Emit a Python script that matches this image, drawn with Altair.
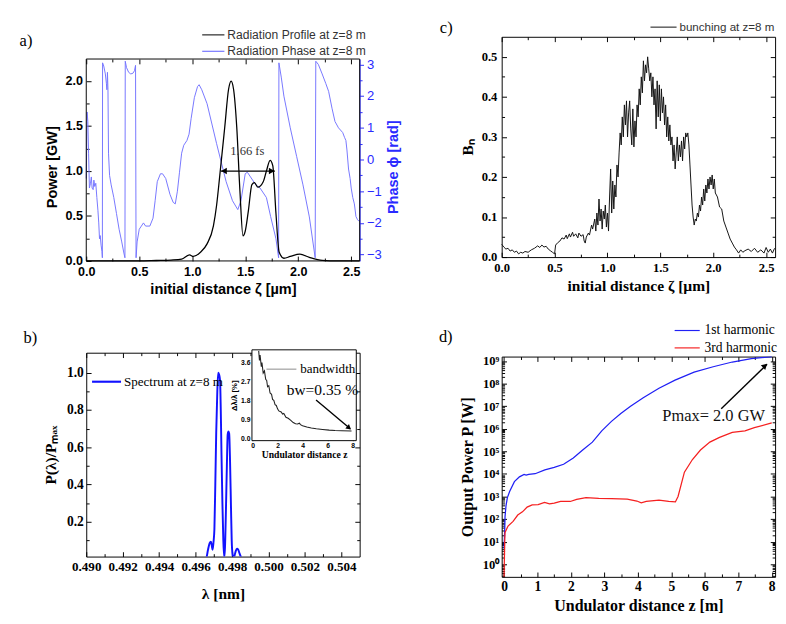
import altair as alt
import pandas as pd

SANS = "Liberation Sans"
SERIF = "Liberation Serif"

# plot-area sizes (px)
W_A, H_A = 283, 209
A_TOP = 23                 # panel a frame sits this far below panel c's frame top
W_B, H_B = 283, 211
W_C, H_C = 283, 228
W_D, H_D = 283, 228

# ---------------- panel a : radiation profile & phase ----------------
a_zeta_domain = [0, 2.58]
a_power_domain = [0, 2.246]
a_phase_domain = [-3.2, 3.17]
a_zeta_ticks = [0, 0.5, 1.0, 1.5, 2.0, 2.5]
a_zeta_minor = [0.25, 0.75, 1.25, 1.75, 2.25]
a_power_ticks = [0, 0.5, 1.0, 1.5, 2.0]
a_power_minor = [0.25, 0.75, 1.25, 1.75]
a_phase_ticks = [-3, -2, -1, 0, 1, 2, 3]
a_phase_minor = [-2.5, -1.5, -0.5, 0.5, 1.5, 2.5]
a_power = [(0.00, 0.0), (0.50, 0.0), (0.66, 0.005), (0.80, 0.01), (0.90, 0.02), (0.975, 0.067),
           (1.01, 0.05), (1.08, 0.10), (1.14, 0.19), (1.20, 0.39), (1.23, 0.62), (1.26, 0.95),
           (1.307, 1.49), (1.343, 1.91), (1.367, 2.0), (1.39, 1.91), (1.42, 1.49), (1.45, 0.78),
           (1.479, 0.28), (1.50, 0.33), (1.53, 0.56), (1.563, 0.85), (1.587, 0.87), (1.62, 0.82),
           (1.67, 0.88), (1.70, 1.0), (1.735, 1.12), (1.76, 1.06), (1.79, 0.53), (1.82, 0.10),
           (1.865, 0.03), (1.925, 0.05), (2.015, 0.075), (2.105, 0.04), (2.226, 0.005),
           (2.30, 0.0), (2.58, 0.0)]
a_phase = [(0.000, -0.6), (0.008, 1.5), (0.015, 1.2), (0.022, 0.2), (0.030, -0.9), (0.040, -0.75),
           (0.048, -0.55), (0.055, -0.9), (0.065, -0.95), (0.072, -0.65), (0.080, -0.85),
           (0.090, -0.75), (0.100, -1.2), (0.110, -1.6), (0.118, -2.0), (0.125, -2.5), (0.132, -2.4),
           (0.140, -2.7), (0.148, -2.9), (0.152, -3.1), (0.154, 3.05), (0.165, 2.95), (0.180, 2.7),
           (0.190, 2.4), (0.195, 2.2), (0.200, 2.75), (0.205, 2.2), (0.210, 0.2), (0.220, -0.5),
           (0.235, -0.8), (0.260, -1.2), (0.285, -1.7), (0.310, -2.2), (0.335, -2.6), (0.355, -2.95),
           (0.365, -3.1), (0.368, 3.1), (0.380, 2.9), (0.400, 2.75), (0.420, 2.7), (0.440, 2.72),
           (0.455, 2.8), (0.465, 2.97), (0.470, -3.1), (0.480, -2.6), (0.500, -2.2), (0.520, -2.1),
           (0.540, -2.0), (0.560, -2.1), (0.600, -2.1), (0.630, -1.85), (0.650, -1.3), (0.670, -0.7),
           (0.700, -0.45), (0.720, -0.45), (0.750, -0.6), (0.790, -1.1), (0.820, -1.35),
           (0.840, -1.4), (0.860, -1.0), (0.880, -0.4), (0.900, 0.2), (0.920, 0.45), (0.950, 0.6),
           (0.970, 0.8), (0.990, 1.3), (1.020, 1.95), (1.050, 2.3), (1.065, 2.36), (1.090, 2.2),
           (1.140, 1.76), (1.230, 0.5), (1.320, -0.7), (1.380, -1.3), (1.430, -1.58), (1.460, -1.3),
           (1.500, -0.45), (1.520, -0.4), (1.550, -0.55), (1.600, -0.8), (1.640, -0.9),
           (1.700, -1.2), (1.740, -1.8), (1.790, -2.5), (1.815, -3.1), (1.818, 3.05), (1.840, 2.6),
           (1.865, 2.0), (1.925, 1.0), (1.985, 0.1), (2.045, -0.8), (2.105, -1.81), (2.160, -3.1),
           (2.166, 3.1), (2.190, 3.0), (2.226, 2.7), (2.260, 2.4), (2.287, 2.15), (2.320, 1.6),
           (2.347, 1.2), (2.380, 1.0), (2.420, 0.85), (2.437, 0.7), (2.450, 0.6), (2.460, 0.3),
           (2.475, -0.3), (2.490, -0.6), (2.500, -0.9), (2.515, -1.2), (2.530, -1.4),
           (2.545, -1.8), (2.560, -1.9), (2.575, -1.95)]
a_fwhm = [1.27, 1.78, 1.0]          # arrow from, to, power level
a_fwhm_label = ["1.66 fs", 1.52, 1.22]
a_legend = ["Radiation Profile at z=8 m", "Radiation Phase at z=8 m"]

# ---------------- panel b : spectrum + bandwidth inset ----------------
b_lambda_domain = [0.490, 0.505]
b_p_domain = [0.013, 1.108]
b_lambda_ticks = [0.490, 0.492, 0.494, 0.496, 0.498, 0.500, 0.502, 0.504]
b_lambda_minor = [0.491, 0.493, 0.495, 0.497, 0.499, 0.501, 0.503]
b_p_ticks = [0.2, 0.4, 0.6, 0.8, 1.0]
b_p_minor = [0.1, 0.3, 0.5, 0.7, 0.9]
b_spectrum = [(0.49615, 0.0), (0.49640, 0.0), (0.49658, 0.005), (0.49668, 0.05), (0.49677, 0.085),
              (0.49684, 0.093), (0.49689, 0.07), (0.49693, 0.05), (0.49698, 0.09), (0.49703, 0.16),
              (0.49708, 0.40), (0.49713, 0.68), (0.49719, 0.90), (0.49724, 1.0), (0.49729, 0.99),
              (0.49734, 0.96), (0.49738, 0.80), (0.49742, 0.56), (0.49747, 0.30), (0.49752, 0.10),
              (0.49757, 0.01), (0.49761, 0.06), (0.49766, 0.25), (0.49771, 0.48), (0.49776, 0.67),
              (0.49780, 0.685), (0.49784, 0.675), (0.49789, 0.52), (0.49794, 0.28), (0.49798, 0.10),
              (0.49803, 0.02), (0.49808, 0.0), (0.49814, 0.02), (0.49820, 0.042), (0.49827, 0.055),
              (0.49834, 0.05), (0.49841, 0.03), (0.49849, 0.01), (0.49856, 0.0), (0.49866, 0.0)]
inset_z_domain = [-0.05, 8.3]
inset_bw_domain = [-0.11, 4.2]
inset_z_ticks = [0, 2, 4, 6, 8]
inset_bw_ticks = [0.0, 0.9, 1.8, 2.7, 3.6]
inset_bw = [(0.49, 4.15), (0.55, 3.7), (0.6, 3.95), (0.7, 3.4), (0.75, 3.6), (0.85, 3.1), (0.95, 3.2),
            (1.05, 2.8), (1.13, 2.75), (1.2, 2.45), (1.3, 2.5), (1.4, 2.15), (1.52, 2.09), (1.6, 1.85),
            (1.7, 1.8), (1.8, 1.6), (1.9, 1.56), (2.0, 1.4), (2.1, 1.3), (2.29, 1.25), (2.4, 1.15),
            (2.5, 1.18), (2.67, 1.0), (2.85, 0.95), (3.06, 0.85), (3.25, 0.75), (3.44, 0.69),
            (3.6, 0.68), (3.75, 0.72), (3.83, 0.65), (4.0, 0.6), (4.34, 0.54), (4.7, 0.49),
            (5.1, 0.45), (5.6, 0.42), (6.13, 0.39), (6.6, 0.37), (7.15, 0.36), (7.92, 0.35)]
inset_arrow = [5.08, 1.82, 7.82, 0.45]
b_texts = ["Spectrum at z=8 m", "bandwidth", "bw=0.35 %"]

# ---------------- panel c : bunching ----------------
c_zeta_domain = [0, 2.585]
c_b_domain = [0, 0.55]
c_zeta_ticks = [0, 0.5, 1.0, 1.5, 2.0, 2.5]
c_zeta_minor = [0.25, 0.75, 1.25, 1.75, 2.25]
c_b_ticks = [0.0, 0.1, 0.2, 0.3, 0.4, 0.5]
c_b_minor = [0.05, 0.15, 0.25, 0.35, 0.45]
c_bunch = [(0.00, 0.032), (0.02, 0.025), (0.04, 0.020), (0.06, 0.022), (0.08, 0.015), (0.10, 0.018),
           (0.12, 0.012), (0.14, 0.015), (0.16, 0.008), (0.18, 0.012), (0.20, 0.010), (0.22, 0.014),
           (0.25, 0.012), (0.28, 0.018), (0.31, 0.022), (0.34, 0.028), (0.36, 0.024), (0.38, 0.030),
           (0.40, 0.025), (0.42, 0.027), (0.44, 0.020), (0.46, 0.016), (0.48, 0.012), (0.50, 0.008),
           (0.51, 0.030), (0.53, 0.036), (0.55, 0.040), (0.57, 0.048), (0.59, 0.045), (0.61, 0.055),
           (0.62, 0.046), (0.64, 0.058), (0.65, 0.050), (0.67, 0.062), (0.68, 0.052), (0.70, 0.058),
           (0.72, 0.048), (0.73, 0.060), (0.75, 0.052), (0.77, 0.056), (0.78, 0.040), (0.79, 0.035),
           (0.80, 0.050), (0.82, 0.060), (0.83, 0.055), (0.85, 0.080), (0.86, 0.070), (0.88, 0.095),
           (0.89, 0.065), (0.90, 0.110), (0.91, 0.080), (0.92, 0.145), (0.93, 0.090), (0.94, 0.120),
           (0.95, 0.070), (0.96, 0.115), (0.97, 0.095), (0.98, 0.130), (0.99, 0.075), (1.00, 0.110),
           (1.01, 0.065), (1.02, 0.150), (1.03, 0.220), (1.04, 0.110), (1.05, 0.190), (1.06, 0.120),
           (1.07, 0.180), (1.08, 0.150), (1.09, 0.230), (1.10, 0.200), (1.11, 0.260), (1.12, 0.310),
           (1.13, 0.280), (1.14, 0.350), (1.15, 0.300), (1.16, 0.380), (1.17, 0.330), (1.18, 0.390),
           (1.19, 0.300), (1.20, 0.360), (1.21, 0.390), (1.22, 0.320), (1.23, 0.280), (1.24, 0.370),
           (1.25, 0.275), (1.26, 0.340), (1.27, 0.300), (1.28, 0.380), (1.29, 0.350), (1.30, 0.420),
           (1.31, 0.380), (1.32, 0.450), (1.33, 0.410), (1.34, 0.490), (1.35, 0.440), (1.36, 0.480),
           (1.37, 0.460), (1.38, 0.500), (1.39, 0.470), (1.40, 0.440), (1.41, 0.460), (1.42, 0.400),
           (1.43, 0.450), (1.44, 0.380), (1.45, 0.420), (1.46, 0.320), (1.47, 0.440), (1.48, 0.350),
           (1.49, 0.430), (1.50, 0.340), (1.51, 0.420), (1.52, 0.360), (1.53, 0.400), (1.54, 0.330),
           (1.55, 0.380), (1.56, 0.300), (1.57, 0.350), (1.58, 0.290), (1.59, 0.330), (1.60, 0.280),
           (1.61, 0.300), (1.62, 0.240), (1.63, 0.280), (1.64, 0.220), (1.65, 0.260), (1.66, 0.300),
           (1.67, 0.240), (1.68, 0.280), (1.69, 0.250), (1.70, 0.290), (1.71, 0.240), (1.72, 0.300),
           (1.73, 0.270), (1.74, 0.310), (1.75, 0.300), (1.76, 0.310), (1.77, 0.280), (1.78, 0.230),
           (1.79, 0.180), (1.80, 0.130), (1.81, 0.100), (1.82, 0.080), (1.83, 0.095), (1.84, 0.090),
           (1.85, 0.110), (1.86, 0.100), (1.87, 0.130), (1.88, 0.115), (1.89, 0.150), (1.90, 0.130),
           (1.91, 0.170), (1.92, 0.140), (1.93, 0.180), (1.94, 0.160), (1.95, 0.195), (1.96, 0.170),
           (1.97, 0.200), (1.98, 0.180), (1.99, 0.205), (2.00, 0.170), (2.01, 0.195), (2.02, 0.160),
           (2.04, 0.150), (2.06, 0.125), (2.08, 0.120), (2.10, 0.090), (2.12, 0.075), (2.14, 0.060),
           (2.16, 0.045), (2.18, 0.035), (2.20, 0.025), (2.22, 0.018), (2.24, 0.010), (2.26, 0.018),
           (2.28, 0.012), (2.30, 0.016), (2.33, 0.020), (2.36, 0.014), (2.39, 0.022), (2.42, 0.012),
           (2.45, 0.018), (2.48, 0.010), (2.50, 0.024), (2.52, 0.012), (2.54, 0.020), (2.56, 0.010),
           (2.58, 0.022)]

# ---------------- panel d : output power (log10 of W) ----------------
d_z_domain = [-0.07, 8.1]
d_log_domain = [-0.56, 9.2]
d_z_ticks = [0, 1, 2, 3, 4, 5, 6, 7, 8]
d_z_minor = [0.5, 1.5, 2.5, 3.5, 4.5, 5.5, 6.5, 7.5]
d_log_ticks = [0, 1, 2, 3, 4, 5, 6, 7, 8, 9]
d_mantissas = [2, 3, 4, 5, 6, 7, 8, 9]
d_first = [(0.0, 0.70), (0.02, 1.5), (0.03, 2.11), (0.06, 2.6), (0.10, 2.95), (0.17, 3.23),
           (0.31, 3.66), (0.46, 3.87), (0.60, 3.98), (0.66, 3.95), (0.74, 3.98), (0.93, 4.01),
           (1.22, 4.18), (1.50, 4.29), (1.78, 4.43), (2.07, 4.71), (2.35, 5.06), (2.64, 5.41),
           (2.92, 5.91), (3.21, 6.33), (3.49, 6.68), (3.78, 7.00), (4.16, 7.38), (4.63, 7.80),
           (5.11, 8.16), (5.68, 8.51), (6.25, 8.75), (6.82, 8.96), (7.39, 9.11), (8.0, 9.2)]
d_third = [(0.0, -0.6), (0.01, 0.2), (0.02, 0.98), (0.03, 1.41), (0.12, 1.69), (0.27, 1.90),
           (0.41, 2.18), (0.55, 2.32), (0.69, 2.53), (0.84, 2.63), (1.02, 2.64), (1.21, 2.74),
           (1.36, 2.67), (1.50, 2.71), (1.69, 2.78), (1.98, 2.78), (2.17, 2.87), (2.45, 2.95),
           (2.83, 2.92), (3.21, 2.91), (3.68, 2.88), (3.97, 2.80), (4.10, 2.72), (4.25, 2.78),
           (4.63, 2.84), (4.92, 2.78), (5.12, 2.76), (5.20, 3.0), (5.39, 4.08), (5.63, 4.64),
           (5.87, 5.06), (6.15, 5.41), (6.44, 5.62), (6.82, 5.84), (7.20, 5.91), (7.48, 6.05),
           (8.0, 6.26)]
d_arrow = [6.49, 6.89, 7.86, 8.86]
d_pmax_label = ["Pmax= 2.0 GW", 4.73, 6.54]
d_legend = ["1st harmonic", "3rd harmonic"]

PHASE_LINE = "#7474ff"
PHASE_AXIS = "#2a2aff"


def pts(pairs, a="x", b="y"):
    return pd.DataFrame({a: [p[0] for p in pairs], b: [p[1] for p in pairs]})


def axis(orient, values, fmt=None, expr=None, font=SANS, lsize=13, lweight="bold", title="",
         tfont=None, tsize=15, tpad=4, lpad=3, color="black", tick=5, inward=True, shift=0,
         domain=False, tangle=None, ty=None, tbase=None):
    kw = dict(orient=orient, values=values, grid=False, domain=domain, domainColor=color,
              ticks=True, tickSize=tick, tickColor=color, tickWidth=1,
              offset=shift - (tick if inward else 0),
              labelFont=font, labelFontSize=lsize, labelFontWeight=lweight, labelColor=color,
              labelPadding=lpad, labelFlush=False, labelOverlap=False,
              title=title, titleFont=tfont or font, titleFontSize=tsize, titleFontWeight="bold",
              titleColor=color, titlePadding=tpad)
    if fmt:
        kw["format"] = fmt
    if expr:
        kw["labelExpr"] = expr
    if tangle is not None:
        kw["titleAngle"] = tangle
    if ty is not None:
        kw["titleY"] = ty
    if tbase:
        kw["titleBaseline"] = tbase
    return alt.Axis(**kw)


def sc(domain, rng=None, kind=None):
    kw = dict(domain=domain, nice=False, zero=False)
    if rng is not None:
        kw["range"] = rng
    if kind:
        kw["type"] = kind
    return alt.Scale(**kw)


def tick_marks(xs, ys, x0, y0, channel, orient, values, size=5, inward=True, color="black", shift=0):
    """Label-less, title-less tick axis (mirror / minor ticks) drawn from the panel's own scales."""
    ax = alt.Axis(orient=orient, values=values, labels=False, domain=False, grid=False, ticks=True,
                  tickSize=size, offset=shift - (size if inward else 0), tickColor=color,
                  tickWidth=1, title=None, minExtent=0, maxExtent=0)
    df = pd.DataFrame({"v": [x0], "w": [y0]})
    if channel == "x":
        enc = dict(x=alt.X("v:Q", scale=xs, axis=ax), y=alt.Y("w:Q", scale=ys, axis=None))
    else:
        enc = dict(x=alt.X("v:Q", scale=xs, axis=None), y=alt.Y("w:Q", scale=ys, axis=ax))
    return alt.Chart(df).mark_point(opacity=0).encode(**enc)


def label(text, x, y, size, font=SERIF, color="black", weight="normal", align="left"):
    return alt.Chart(pd.DataFrame({"t": [text]})).mark_text(
        align=align, baseline="middle", fontSize=size, font=font, color=color, fontWeight=weight
    ).encode(x=alt.value(x), y=alt.value(y), text="t:N")


def key_line(x1, x2, y, color, width=1.2):
    return alt.Chart(pd.DataFrame({"k": [0]})).mark_rule(color=color, strokeWidth=width).encode(
        x=alt.value(x1), x2=alt.value(x2), y=alt.value(y))


# ================= panel a =================
H_AC = H_A + A_TOP
A_TITLE_Y = A_TOP + H_A / 2 + 7
SA_X = sc(a_zeta_domain)
SA_P = sc(a_power_domain, [H_AC, A_TOP])
SA_PHI = sc(a_phase_domain, [H_AC, A_TOP])
AX_A_X = axis("bottom", a_zeta_ticks, fmt=".1f", title="initial distance ζ [µm]", tsize=15, lpad=5)
AX_A_P = axis("left", a_power_ticks, fmt=".1f", title="Power [GW]", tsize=15, tpad=6, lpad=4,
              ty=A_TITLE_Y)
AX_A_PHI = axis("right", a_phase_ticks, fmt="d", lweight="normal", lsize=13.5, color=PHASE_AXIS,
                inward=False, domain=True, tick=4, title="Phase ϕ [rad]", tangle=270, tpad=5,
                ty=A_TITLE_Y, tbase="top")


def xa(field="x"):
    return alt.X(f"{field}:Q", scale=SA_X, axis=None)


def ya(field="y"):
    return alt.Y(f"{field}:Q", scale=SA_P, axis=AX_A_P)


a_phase_line = alt.Chart(pts(a_phase)).mark_line(color=PHASE_LINE, strokeWidth=1).encode(
    x=alt.X("x:Q", scale=SA_X, axis=AX_A_X), y=alt.Y("y:Q", scale=SA_PHI, axis=AX_A_PHI))
a_frame = alt.Chart(pd.DataFrame({"x0": [a_zeta_domain[0]], "x1": [a_zeta_domain[1]],
                                  "y0": [a_power_domain[0]], "y1": [a_power_domain[1]]})).mark_rect(
    fill="white", fillOpacity=0, stroke="black", strokeWidth=1).encode(
    x=xa("x0"), x2="x1:Q", y=ya("y0"), y2="y1:Q")
a_power_line = alt.Chart(pts(a_power)).mark_line(color="black", strokeWidth=1.3,
                                                  interpolate="monotone").encode(x=xa(), y=ya())
a_arrow = alt.Chart(pd.DataFrame({"x1": [a_fwhm[0]], "x2": [a_fwhm[1]], "y": [a_fwhm[2]]})).mark_rule(
    color="black", strokeWidth=1.3).encode(x=xa("x1"), x2="x2:Q", y=ya())
a_head_l = alt.Chart(pd.DataFrame({"x": [a_fwhm[0] + 0.03], "y": [a_fwhm[2]]})).mark_point(
    shape="triangle-left", filled=True, size=45, color="black", opacity=1).encode(x=xa(), y=ya())
a_head_r = alt.Chart(pd.DataFrame({"x": [a_fwhm[1] - 0.03], "y": [a_fwhm[2]]})).mark_point(
    shape="triangle-right", filled=True, size=45, color="black", opacity=1).encode(x=xa(), y=ya())
a_fwhm_text = alt.Chart(pd.DataFrame({"t": [a_fwhm_label[0]], "x": [a_fwhm_label[1]],
                                      "y": [a_fwhm_label[2]]})).mark_text(
    font=SERIF, fontSize=13, color="#333333", align="center", baseline="middle").encode(
    x=xa(), y=ya(), text="t:N")

a_power_group = alt.layer(a_frame, a_power_line, a_arrow, a_head_l, a_head_r, a_fwhm_text)
ax0, ay0 = a_zeta_domain[0], a_power_domain[0]

panel_a = alt.layer(
    a_phase_line, a_power_group,
    tick_marks(SA_X, SA_P, ax0, ay0, "x", "top", a_zeta_ticks, 5, shift=-A_TOP),
    tick_marks(SA_X, SA_P, ax0, ay0, "x", "top", a_zeta_minor, 3, shift=-A_TOP),
    tick_marks(SA_X, SA_P, ax0, ay0, "x", "bottom", a_zeta_minor, 3),
    tick_marks(SA_X, SA_P, ax0, ay0, "y", "left", a_power_minor, 3),
    tick_marks(SA_X, SA_PHI, ax0, 0, "y", "right", a_phase_minor, 2.5, inward=False, color=PHASE_AXIS),
    key_line(120, 143, -2, "#222222"), label(a_legend[0], 146, -2, 12.5, font=SANS, color="#333333"),
    key_line(120, 143, 15, PHASE_LINE), label(a_legend[1], 146, 15, 12.5, font=SANS, color="#333333"),
    label("a)", -69, 4, 17),
).resolve_scale(y="independent").resolve_axis(x="independent").properties(
    width=W_A, height=H_AC, view=alt.ViewBackground(stroke="transparent"))

# ================= panel c =================
SC_X = sc(c_zeta_domain)
SC_Y = sc(c_b_domain)
cx0, cy0 = c_zeta_domain[0], c_b_domain[0]
panel_c = alt.layer(
    alt.Chart(pts(c_bunch)).mark_line(color="#111111", strokeWidth=1).encode(
        x=alt.X("x:Q", scale=SC_X,
                axis=axis("bottom", c_zeta_ticks, fmt=".1f", font=SERIF, lsize=13, lpad=5,
                          title="initial distance ζ [µm]", tsize=16)),
        y=alt.Y("y:Q", scale=SC_Y,
                axis=axis("left", c_b_ticks, fmt=".1f", font=SERIF, lsize=13, lpad=5, title="Bₙ",
                          tsize=16, tpad=6))),
    tick_marks(SC_X, SC_Y, cx0, cy0, "x", "bottom", c_zeta_minor, 3),
    tick_marks(SC_X, SC_Y, cx0, cy0, "x", "top", c_zeta_ticks, 5),
    tick_marks(SC_X, SC_Y, cx0, cy0, "x", "top", c_zeta_minor, 3),
    tick_marks(SC_X, SC_Y, cx0, cy0, "y", "left", c_b_minor, 3),
    tick_marks(SC_X, SC_Y, cx0, cy0, "y", "right", c_b_ticks, 5),
    tick_marks(SC_X, SC_Y, cx0, cy0, "y", "right", c_b_minor, 3),
    key_line(154, 181, -10, "#333333"),
    label("bunching at z=8 m", 184, -10, 12, font=SANS, color="#333333"),
    label("c)", -64, -9, 17),
).resolve_axis(x="independent", y="independent").properties(width=W_C, height=H_C)

# ================= panel b =================
IX = [W_B - 111.5, W_B - 3.5]
IY = [91, -3]
SB_X = sc(b_lambda_domain)
SB_Y = sc(b_p_domain)
bx0, by0 = b_lambda_domain[0], b_p_domain[0]


def xi(field="z", ax=None):
    return alt.X(f"{field}:Q", scale=sc(inset_z_domain, IX), axis=ax)


def yi(field="v", ax=None):
    return alt.Y(f"{field}:Q", scale=sc(inset_bw_domain, IY), axis=ax)


b_line = alt.Chart(pts(b_spectrum)).mark_line(color="#1212ff", strokeWidth=2, clip=True,
                                              interpolate="monotone").encode(
    x=alt.X("x:Q", scale=SB_X,
            axis=axis("bottom", b_lambda_ticks, fmt=".3f", font=SERIF, lsize=13.5, title="λ [nm]",
                      tsize=16, tpad=14)),
    y=alt.Y("y:Q", scale=SB_Y,
            axis=axis("left", b_p_ticks, fmt=".1f", font=SERIF, lsize=14, title="P(λ)/Pₘₐₓ",
                      tsize=16, tpad=8)))
inset_frame = alt.Chart(pd.DataFrame({"z": [inset_z_domain[0]], "z2": [inset_z_domain[1]],
                                      "v": [inset_bw_domain[0]], "v2": [inset_bw_domain[1]]})).mark_rect(
    fill="white", stroke="black", strokeWidth=1).encode(x=xi("z"), x2="z2:Q", y=yi("v"), y2="v2:Q")
inset_line = alt.Chart(pts(inset_bw, "z", "v")).mark_line(color="#222222", strokeWidth=1.1).encode(
    x=xi(ax=axis("bottom", inset_z_ticks, fmt="d", lsize=7, tick=3, lpad=1, shift=-(H_B - IY[0]),
                  title="Undulator distance z", tfont=SERIF, tsize=10, tpad=1)),
    y=yi(ax=axis("left", inset_bw_ticks, fmt=".1f", lsize=7, tick=3, lpad=2, shift=-IX[0],
                  title="Δλ/λ [%]", tsize=8, tpad=2)))
inset_arrow_rule = alt.Chart(pd.DataFrame({"z": [inset_arrow[0]], "z2": [inset_arrow[2]],
                                           "v": [inset_arrow[1]], "v2": [inset_arrow[3]]})).mark_rule(
    color="black", strokeWidth=1.4).encode(x=xi("z"), x2="z2:Q", y=yi("v"), y2="v2:Q")
inset_head = alt.Chart(pd.DataFrame({"z": [inset_arrow[2] - 0.15], "v": [inset_arrow[3] + 0.07]})).mark_point(
    shape="triangle", angle=130, filled=True, size=35, color="black", opacity=1).encode(x=xi(), y=yi())

panel_b = alt.layer(
    b_line,
    tick_marks(SB_X, SB_Y, bx0, by0, "x", "bottom", b_lambda_minor, 3),
    tick_marks(SB_X, SB_Y, bx0, by0, "x", "top", b_lambda_ticks, 5),
    tick_marks(SB_X, SB_Y, bx0, by0, "x", "top", b_lambda_minor, 3),
    tick_marks(SB_X, SB_Y, bx0, by0, "y", "left", b_p_minor, 3),
    tick_marks(SB_X, SB_Y, bx0, by0, "y", "right", b_p_ticks, 5),
    tick_marks(SB_X, SB_Y, bx0, by0, "y", "right", b_p_minor, 3),
    key_line(6, 36, 30, "#1212ff", 2.2), label(b_texts[0], 39, 30, 13.5),
    inset_frame, inset_line, inset_arrow_rule, inset_head,
    key_line(IX[0] + 15, IX[0] + 46, 17, "#888888", 1), label(b_texts[1], IX[0] + 50, 17, 13.5),
    label(b_texts[2], IX[0] + 36, 39, 16),
    label("b)", -65, -15, 17),
).resolve_scale(x="independent", y="independent").properties(width=W_B, height=H_B)

# ================= panel d =================
SUPERSCRIPTS = "⁰¹²³⁴⁵⁶⁷⁸⁹"
SD_X = sc(d_z_domain)
SD_Y = sc([10 ** d_log_domain[0], 10 ** d_log_domain[1]], kind="log")
AX_D_X = axis("bottom", d_z_ticks, fmt="d", font=SERIF, lsize=14, title="Undulator distance z [m]",
              tsize=16.5, tpad=5)
AX_D_Y = axis("left", [10 ** k for k in d_log_ticks], font=SERIF, lsize=13,
              expr="'10' + substring('" + SUPERSCRIPTS + "', round(log(datum.value) / LN10), "
                   "round(log(datum.value) / LN10) + 1)",
              title="Output Power P [W]", tsize=16.5, tpad=6)
d_major_values = [10 ** k for k in d_log_ticks]
d_minor_values = [m * 10 ** k for k in range(-1, 10) for m in d_mantissas
                  if 10 ** d_log_domain[0] < m * 10 ** k < 10 ** d_log_domain[1]]


def xd(field="z"):
    return alt.X(f"{field}:Q", scale=SD_X, axis=AX_D_X)


def yd(field="p"):
    return alt.Y(f"{field}:Q", scale=SD_Y, axis=AX_D_Y)


def power_df(pairs):
    return pd.DataFrame({"z": [p[0] for p in pairs], "p": [10 ** p[1] for p in pairs]})


d_blue = alt.Chart(power_df(d_first)).mark_line(color="#2020f5", strokeWidth=1.3, clip=True).encode(
    x=xd(), y=yd())
d_red = alt.Chart(power_df(d_third)).mark_line(color="#f52020", strokeWidth=1.3, clip=True).encode(
    x=xd(), y=yd())
d_arrow_rule = alt.Chart(pd.DataFrame({"z": [d_arrow[0]], "z2": [d_arrow[2]],
                                       "p": [10 ** d_arrow[1]], "p2": [10 ** d_arrow[3]]})).mark_rule(
    color="black", strokeWidth=1.4).encode(x=xd("z"), x2="z2:Q", y=yd("p"), y2="p2:Q")
d_head = alt.Chart(pd.DataFrame({"z": [d_arrow[2] - 0.08], "p": [10 ** (d_arrow[3] - 0.09)]})).mark_point(
    shape="triangle", angle=47, filled=True, size=45, color="black", opacity=1).encode(x=xd(), y=yd())
d_text = alt.Chart(pd.DataFrame({"t": [d_pmax_label[0]], "z": [d_pmax_label[1]],
                                 "p": [10 ** d_pmax_label[2]]})).mark_text(
    font=SERIF, fontSize=17, align="left", baseline="middle", color="#111111").encode(
    x=xd(), y=yd(), text="t:N")

d_data_group = alt.layer(d_blue, d_red, d_arrow_rule, d_head, d_text)
dx0, dy0 = d_z_domain[0], 10 ** d_log_domain[0]

panel_d = alt.layer(
    d_data_group,
    tick_marks(SD_X, SD_Y, dx0, dy0, "x", "bottom", d_z_minor, 3),
    tick_marks(SD_X, SD_Y, dx0, dy0, "x", "top", d_z_ticks, 5),
    tick_marks(SD_X, SD_Y, dx0, dy0, "x", "top", d_z_minor, 3),
    tick_marks(SD_X, SD_Y, dx0, dy0, "y", "left", d_minor_values, 3),
    tick_marks(SD_X, SD_Y, dx0, dy0, "y", "right", d_major_values, 5),
    tick_marks(SD_X, SD_Y, dx0, dy0, "y", "right", d_minor_values, 3),
    key_line(179, 205, -27, "#2020f5"), label(d_legend[0], 210, -27, 14),
    key_line(179, 205, -9, "#f52020"), label(d_legend[1], 210, -9, 14),
    label("d)", -65, -20, 17),
).resolve_axis(x="independent", y="independent").properties(width=W_D, height=H_D)

col1 = alt.vconcat(panel_a, panel_b, spacing=32)
col2 = alt.vconcat(panel_c, panel_d, spacing=29)
chart = alt.hconcat(col1, col2, spacing=38).properties(
    padding={"left": 11, "top": 0, "right": 0, "bottom": 0}
).configure_view(stroke="black", strokeWidth=1)

chart.save("out.html", embed_options={"renderer": "svg", "actions": False})
